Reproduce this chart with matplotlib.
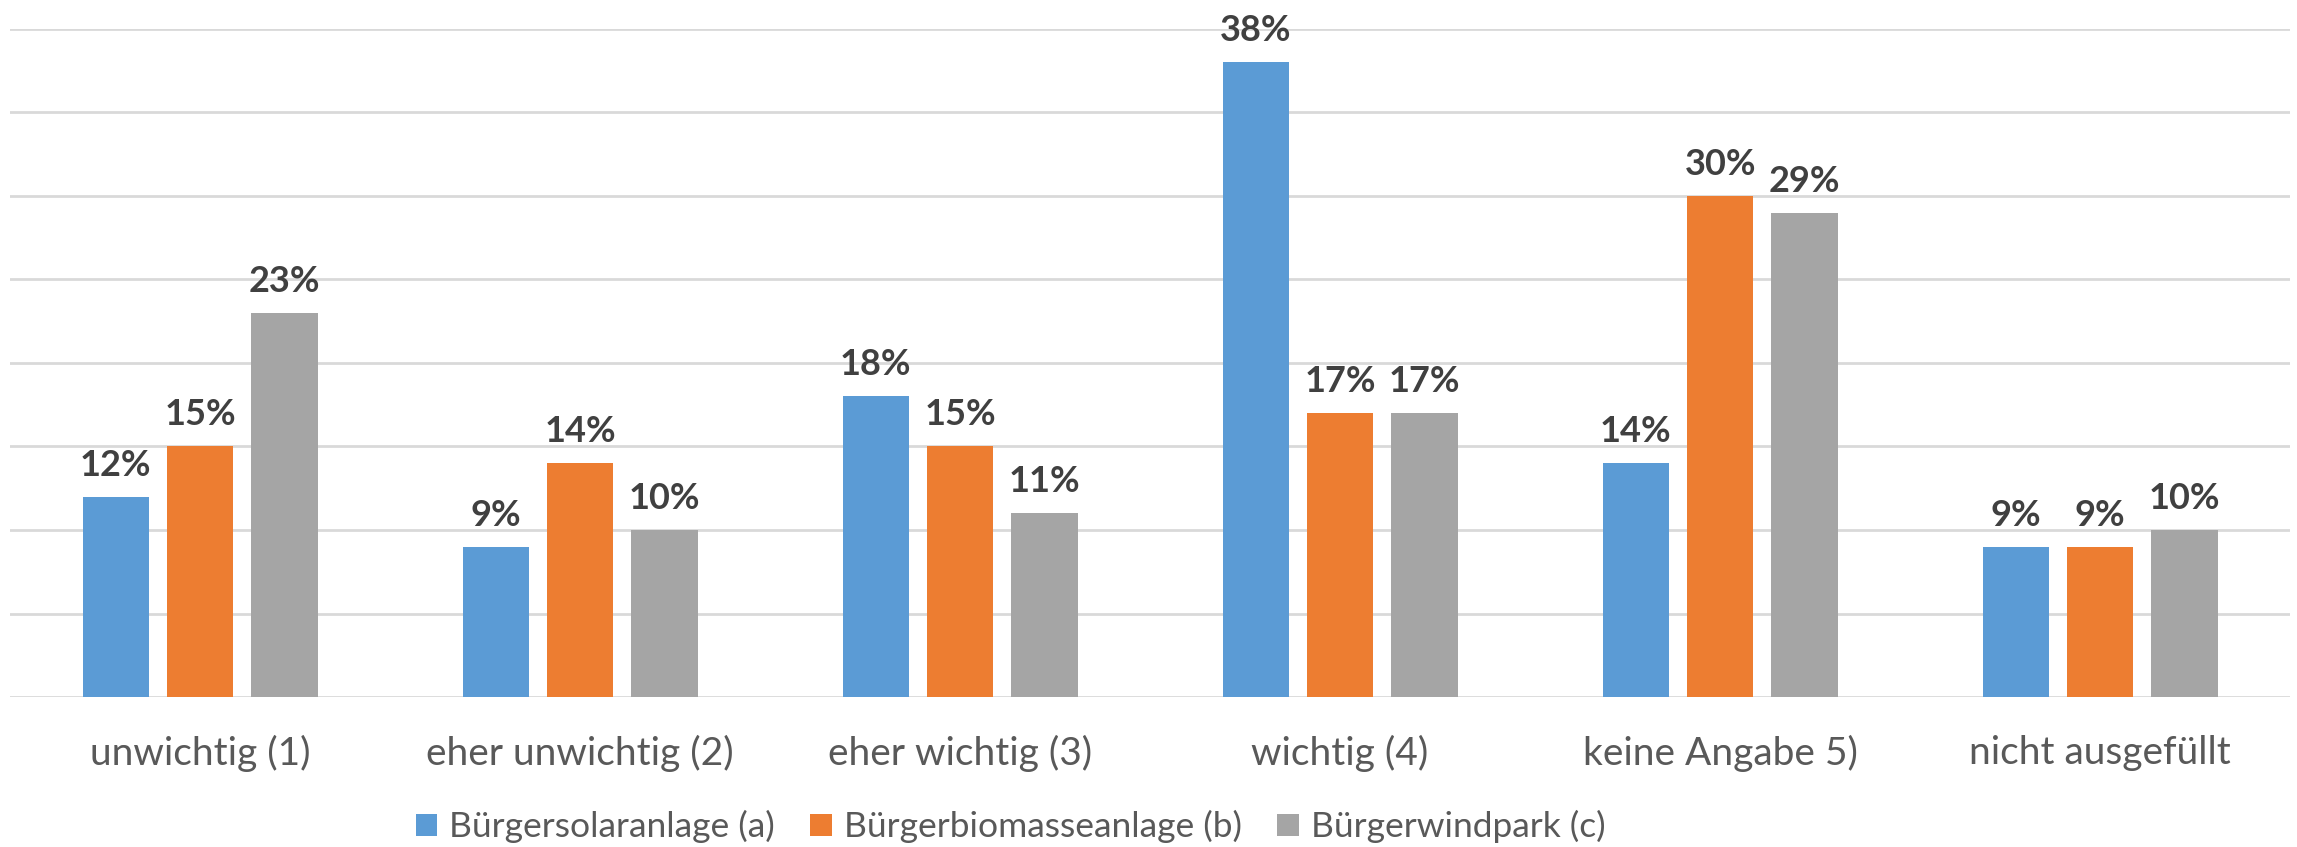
import numpy as np
import matplotlib.pyplot as plt

categories = ['unwichtig (1)', 'eher unwichtig (2)', 'eher wichtig (3)',
              'wichtig (4)', 'keine Angabe 5)', 'nicht ausgefüllt']
series_names = ['Bürgersolaranlage (a)', 'Bürgerbiomasseanlage (b)', 'Bürgerwindpark (c)']
solar = [12, 9, 18, 38, 14, 9]
biomasse = [15, 14, 15, 17, 30, 9]
wind = [23, 10, 11, 17, 29, 10]
colors = ['#5B9BD5', '#ED7D31', '#A5A5A5']

plt.rcParams['font.family'] = ['Lato', 'DejaVu Sans']

fig = plt.figure(figsize=(22.97, 8.47), dpi=100)
ax = fig.add_axes([0.0044, 0.177, 0.9926, 0.789])

x = np.arange(len(categories))
w = 0.174
step = 0.222
for k, (vals, name) in enumerate(zip([solar, biomasse, wind], series_names)):
    pos = x + (k - 1) * step
    bars = ax.bar(pos, vals, width=w, color=colors[k], label=name, zorder=2)
    for b, v in zip(bars, vals):
        ax.text(b.get_x() + b.get_width() / 2, v + 0.9, f'{v}%', ha='center', va='bottom',
                fontsize=26, fontweight='bold', color='#404040')

ax.set_xlim(-0.5, len(categories) - 0.5)
ax.set_ylim(0, 40)
ax.set_yticks(np.arange(0, 41, 5))
ax.yaxis.grid(True, color='#D9D9D9', linewidth=2)
ax.set_axisbelow(True)
ax.tick_params(axis='y', left=False, labelleft=False)
ax.tick_params(axis='x', length=0, pad=27, labelsize=28, labelcolor='#595959')
ax.set_xticks(x)
ax.set_xticklabels(categories)
for s in ax.spines.values():
    s.set_visible(False)

fig.legend(loc='center', bbox_to_anchor=(0.44, 0.024), ncol=3, frameon=False,
           fontsize=25.5, labelcolor='#595959', handlelength=0.6, handleheight=0.6,
           handletextpad=0.35, columnspacing=1.0)

fig.savefig('out.png', dpi=100)
